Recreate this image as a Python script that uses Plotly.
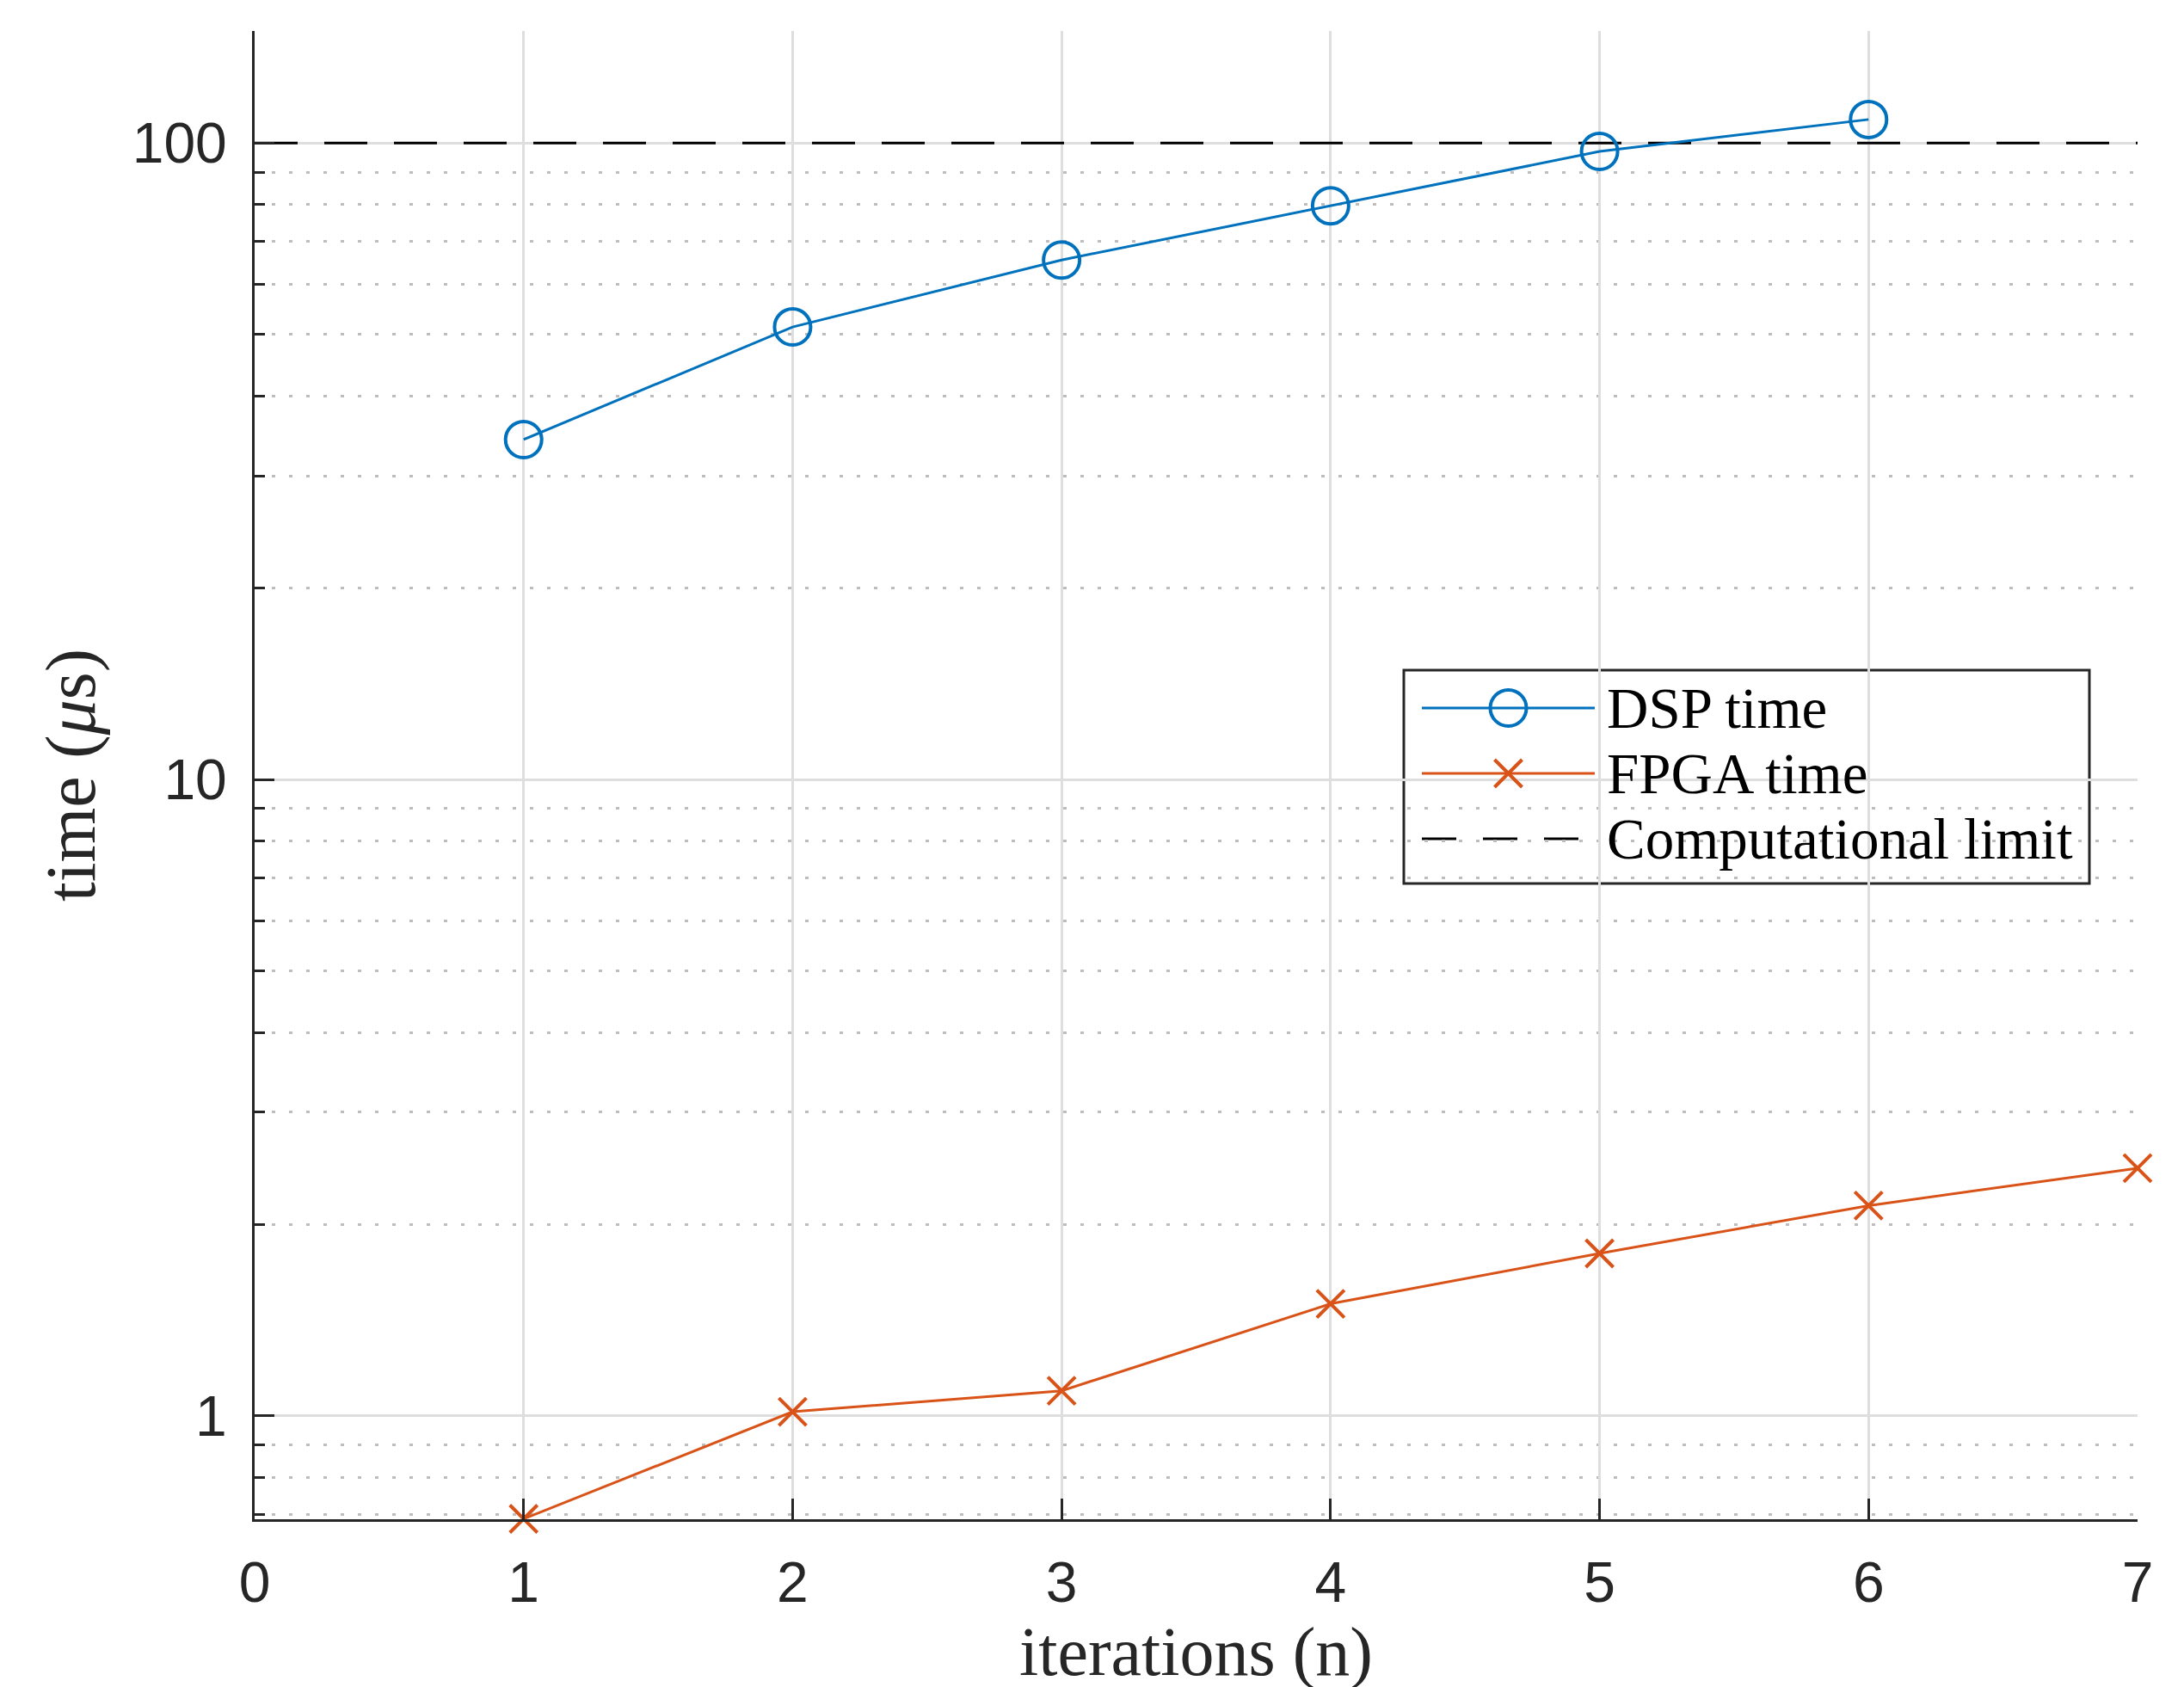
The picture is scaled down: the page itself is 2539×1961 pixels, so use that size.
import math
import plotly.graph_objects as go

# ---- data ----
iterations = [1, 2, 3, 4, 5, 6, 7]
dsp_iter = [1, 2, 3, 4, 5, 6]
dsp_time = [34.2, 51.4, 65.5, 79.7, 97.0, 108.9]
fpga_time = [0.689, 1.015, 1.095, 1.50, 1.80, 2.14, 2.45]
limit_x = [0, 7]
limit_value = 100
y_ticks = [1, 10, 100]
y_ticktext = ["1", "10", "100"]
y_minor = [0.7, 0.8, 0.9, 2, 3, 4, 5, 6, 7, 8, 9, 20, 30, 40, 50, 60, 70, 80, 90]
x_ticks = [0, 1, 2, 3, 4, 5, 6, 7]
legend_names = ["DSP time", "FPGA time", "Computational limit"]

BLUE = "#0072BD"
ORANGE = "#D95319"
AX = "#262626"
W, H = 2539, 1961
OFF = 8  # page body margin
L, R, T, B = 296 - OFF, 54 + OFF, 36 - OFF, 195 + OFF

fig = go.Figure()

fig.add_trace(go.Scatter(x=limit_x, y=[limit_value] * len(limit_x), mode="lines",
                         line=dict(color="black", width=3, dash="50px,31px"),
                         showlegend=False, cliponaxis=False))
fig.add_trace(go.Scatter(x=dsp_iter, y=dsp_time, mode="lines+markers",
                         line=dict(color=BLUE, width=3),
                         marker=dict(symbol="circle-open", size=42, color=BLUE,
                                     line=dict(width=4, color=BLUE)),
                         showlegend=False, cliponaxis=False))
fig.add_trace(go.Scatter(x=iterations, y=fpga_time, mode="lines+markers",
                         line=dict(color=ORANGE, width=3),
                         marker=dict(symbol="x-thin", size=32, color=ORANGE,
                                     line=dict(width=4, color=ORANGE)),
                         showlegend=False, cliponaxis=False))

# ---- custom legend (screen px -> paper coordinates of plot area) ----
pw = W - L - R
ph = H - T - B
def px(x):
    return (x - OFF - L) / pw
def py(y):
    return (H - B - (y - OFF)) / ph

box = dict(x0=px(1632), x1=px(2429), y0=py(1027), y1=py(779))
rows = [py(823), py(899), py(975)]
lx0, lx1 = px(1653), px(1854)
lxm = (lx0 + lx1) / 2
tx = px(1866)

fig.add_shape(type="rect", xref="paper", yref="paper", layer="between",
              x0=box["x0"], x1=box["x1"], y0=box["y0"], y1=box["y1"],
              fillcolor="white", line=dict(color=AX, width=3))
styles = [dict(color=BLUE, width=3), dict(color=ORANGE, width=3),
          dict(color="black", width=3, dash="40px,31px")]
for r, st in zip(rows, styles):
    fig.add_shape(type="line", xref="paper", yref="paper", layer="between",
                  x0=lx0, x1=lx1, y0=r, y1=r, line=st)
fig.add_trace(go.Scatter(x=[lxm], y=[rows[0]], xaxis="x2", yaxis="y2", mode="markers",
                         marker=dict(symbol="circle-open", size=42, color=BLUE,
                                     line=dict(width=4, color=BLUE)),
                         showlegend=False, cliponaxis=False))
fig.add_trace(go.Scatter(x=[lxm], y=[rows[1]], xaxis="x2", yaxis="y2", mode="markers",
                         marker=dict(symbol="x-thin", size=32, color=ORANGE,
                                     line=dict(width=4, color=ORANGE)),
                         showlegend=False, cliponaxis=False))
for r, name in zip(rows, legend_names):
    fig.add_annotation(x=tx, y=r, xref="paper", yref="paper", text=name,
                       showarrow=False, xanchor="left", yanchor="middle",
                       font=dict(family="Liberation Serif", size=67, color="black"))

fig.update_layout(
    width=W, height=H,
    margin=dict(l=L, r=R, t=T, b=B),
    paper_bgcolor="white", plot_bgcolor="white",
    showlegend=False,
    xaxis=dict(
        range=[0, 7], tickmode="array", tickvals=x_ticks,
        showline=True, linecolor=AX, linewidth=3, mirror=False,
        ticks="inside", ticklen=24, tickwidth=3, tickcolor=AX,
        showgrid=True, gridcolor="#dedede", gridwidth=3,
        zeroline=False,
        tickfont=dict(family="Liberation Sans", size=66, color=AX),
        ticklabelstandoff=14,
        title=dict(text="iterations (n)", standoff=4,
                   font=dict(family="Liberation Serif", size=80, color=AX)),
    ),
    yaxis=dict(
        type="log", range=[math.log10(0.688), math.log10(150)],
        tickmode="array", tickvals=y_ticks, ticktext=y_ticktext,
        showline=True, linecolor=AX, linewidth=3, mirror=False,
        ticks="inside", ticklen=23, tickwidth=3, tickcolor=AX,
        showgrid=True, gridcolor="#dedede", gridwidth=3,
        zeroline=False,
        tickfont=dict(family="Liberation Sans", size=66, color=AX),
        ticklabelstandoff=16,
        minor=dict(tickmode="array", tickvals=y_minor, ticks="inside", ticklen=12,
                   tickwidth=3, tickcolor=AX, showgrid=True, gridcolor="#bdbdbd",
                   gridwidth=3, griddash="4px,16px"),
        title=dict(text="time (<i>μ</i>s)", standoff=16,
                   font=dict(family="Liberation Serif", size=82, color=AX)),
    ),
    xaxis2=dict(overlaying="x", range=[0, 1], visible=False),
    yaxis2=dict(overlaying="y", range=[0, 1], visible=False),
)

fig.write_html("out.html")
